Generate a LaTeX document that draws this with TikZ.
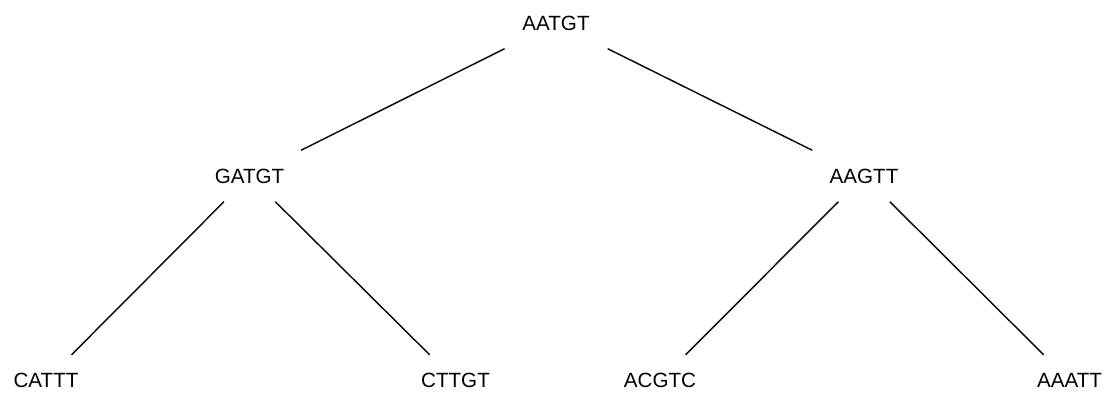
\documentclass[tikz,border=0pt]{standalone}
\usepackage{fontspec}
\setmainfont{Liberation Sans}
\begin{document}
\begin{tikzpicture}[x=1pt,y=-1pt,
  seq/.style={rectangle,inner sep=0pt,minimum height=51pt,minimum width=110pt,font=\fontsize{20.6}{24}\selectfont},
  edge/.style={draw=black,line width=1.4pt}]
\useasboundingbox (0,0) rectangle (1107,394);
\node[seq] (r)  at (556,23) {AATGT};
\node[seq] (l)  at (249.5,176) {GATGT};
\node[seq] (rr) at (864,176) {AAGTT};
\node[seq] (a)  at (46,380.5) {CATTT};
\node[seq] (b)  at (455.5,380.5) {CTTGT};
\node[seq] (c)  at (660,380.5) {ACGTC};
\node[seq] (d)  at (1069.5,380.5) {AAATT};
\draw[edge] (r) -- (l);
\draw[edge] (r) -- (rr);
\draw[edge] (l) -- (a);
\draw[edge] (l) -- (b);
\draw[edge] (rr) -- (c);
\draw[edge] (rr) -- (d);
\end{tikzpicture}
\end{document}
